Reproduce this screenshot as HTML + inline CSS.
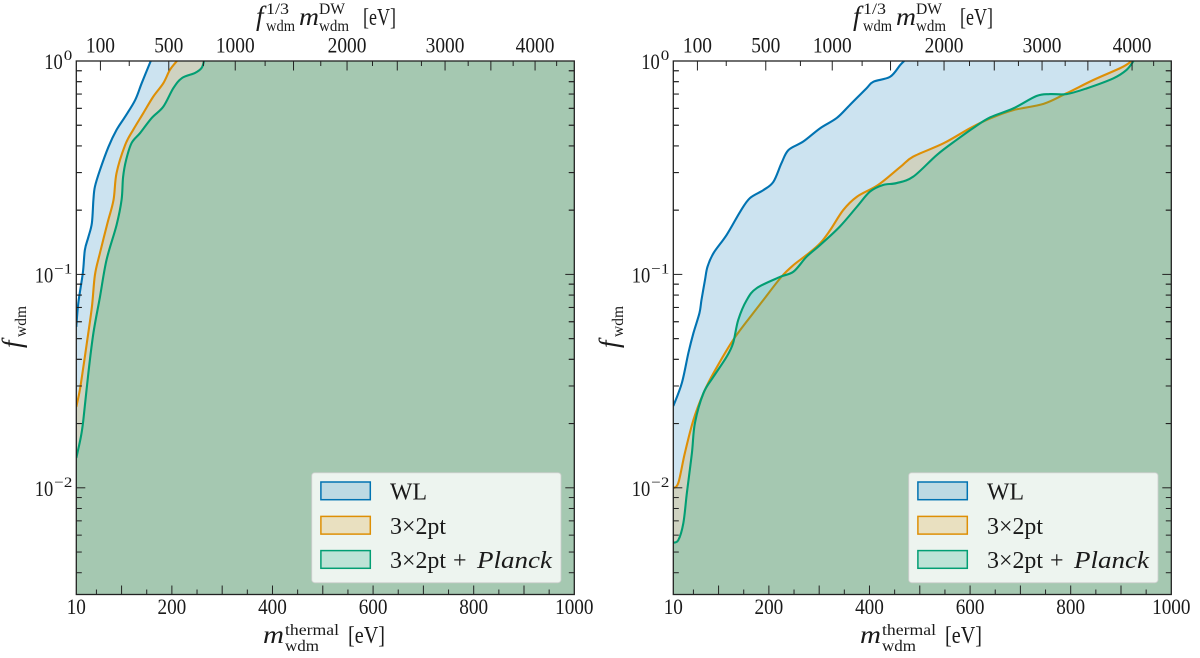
<!DOCTYPE html>
<html>
<head>
<meta charset="utf-8">
<title>WDM constraints</title>
<style>
html,body{margin:0;padding:0;background:#fff;}
svg{display:block;}
text{font-family:"Liberation Serif",serif;fill:#1a1a1a;}
.i{font-style:italic;}
</style>
</head>
<body>
<svg id="chart" width="1200" height="658" viewBox="0 0 1200 658" xmlns="http://www.w3.org/2000/svg">
  <defs>
    <clipPath id="clip-left"><rect x="76.3" y="61" width="498" height="533.5"/></clipPath>
    <clipPath id="clip-right"><rect x="673.3" y="61" width="498" height="533.5"/></clipPath>
  </defs>
  <g id="panel-left"></g>
  <g id="panel-right"></g>

  <g>
    <g>
      <text class="i" x="256" y="25" font-size="27">f</text>
      <text x="266" y="14" font-size="16" textLength="23" lengthAdjust="spacingAndGlyphs">1/3</text>
      <text x="266" y="31" font-size="16" textLength="29" lengthAdjust="spacingAndGlyphs">wdm</text>
      <text class="i" x="299" y="25" font-size="25" textLength="20" lengthAdjust="spacingAndGlyphs">m</text>
      <text x="319" y="14" font-size="16" textLength="26" lengthAdjust="spacingAndGlyphs">DW</text>
      <text x="319" y="31" font-size="16" textLength="30" lengthAdjust="spacingAndGlyphs">wdm</text>
      <text x="363" y="25" font-size="24" textLength="33" lengthAdjust="spacingAndGlyphs">[eV]</text>
    </g>
    <g>
      <text class="i" x="263" y="643" font-size="25" textLength="21" lengthAdjust="spacingAndGlyphs">m</text>
      <text x="285" y="635" font-size="16" textLength="54" lengthAdjust="spacingAndGlyphs">thermal</text>
      <text x="285" y="651" font-size="16" textLength="34" lengthAdjust="spacingAndGlyphs">wdm</text>
      <text x="348" y="643" font-size="24" textLength="37" lengthAdjust="spacingAndGlyphs">[eV]</text>
    </g>
    <g>
      <text class="i" transform="translate(21,348) rotate(-90)" font-size="27">f</text>
      <text transform="translate(26,337) rotate(-90)" font-size="16" textLength="31" lengthAdjust="spacingAndGlyphs">wdm</text>
    </g>
    <g>
      <rect x="311.7" y="472.7" width="249.3" height="110" rx="3" fill="#fff" fill-opacity="0.8" stroke="#ccc" stroke-opacity="0.8"/>
      <rect x="320.9" y="482" width="49.4" height="17.7" fill="#0173b2" fill-opacity="0.2" stroke="#0173b2" stroke-width="1.5"/>
      <rect x="320.9" y="516.4" width="49.4" height="17.7" fill="#de8f05" fill-opacity="0.2" stroke="#de8f05" stroke-width="1.5"/>
      <rect x="320.9" y="550.6" width="49.4" height="17.7" fill="#029e73" fill-opacity="0.2" stroke="#029e73" stroke-width="1.5"/>
      <text x="390" y="499.3" font-size="24" textLength="37" lengthAdjust="spacingAndGlyphs">WL</text>
      <text x="390" y="534" font-size="24" textLength="56" lengthAdjust="spacingAndGlyphs">3×2pt</text>
      <text x="390" y="568" font-size="24" textLength="56" lengthAdjust="spacingAndGlyphs">3×2pt</text>
      <text x="453" y="568" font-size="24">+</text>
      <text class="i" x="477" y="568" font-size="24" textLength="75" lengthAdjust="spacingAndGlyphs">Planck</text>
    </g>
  </g>

  <g transform="translate(597,0)">
    <g>
      <text class="i" x="256" y="25" font-size="27">f</text>
      <text x="266" y="14" font-size="16" textLength="23" lengthAdjust="spacingAndGlyphs">1/3</text>
      <text x="266" y="31" font-size="16" textLength="29" lengthAdjust="spacingAndGlyphs">wdm</text>
      <text class="i" x="299" y="25" font-size="25" textLength="20" lengthAdjust="spacingAndGlyphs">m</text>
      <text x="319" y="14" font-size="16" textLength="26" lengthAdjust="spacingAndGlyphs">DW</text>
      <text x="319" y="31" font-size="16" textLength="30" lengthAdjust="spacingAndGlyphs">wdm</text>
      <text x="363" y="25" font-size="24" textLength="33" lengthAdjust="spacingAndGlyphs">[eV]</text>
    </g>
    <g>
      <text class="i" x="263" y="643" font-size="25" textLength="21" lengthAdjust="spacingAndGlyphs">m</text>
      <text x="285" y="635" font-size="16" textLength="54" lengthAdjust="spacingAndGlyphs">thermal</text>
      <text x="285" y="651" font-size="16" textLength="34" lengthAdjust="spacingAndGlyphs">wdm</text>
      <text x="348" y="643" font-size="24" textLength="37" lengthAdjust="spacingAndGlyphs">[eV]</text>
    </g>
    <g>
      <text class="i" transform="translate(21,348) rotate(-90)" font-size="27">f</text>
      <text transform="translate(26,337) rotate(-90)" font-size="16" textLength="31" lengthAdjust="spacingAndGlyphs">wdm</text>
    </g>
    <g>
      <rect x="311.7" y="472.7" width="249.3" height="110" rx="3" fill="#fff" fill-opacity="0.8" stroke="#ccc" stroke-opacity="0.8"/>
      <rect x="320.9" y="482" width="49.4" height="17.7" fill="#0173b2" fill-opacity="0.2" stroke="#0173b2" stroke-width="1.5"/>
      <rect x="320.9" y="516.4" width="49.4" height="17.7" fill="#de8f05" fill-opacity="0.2" stroke="#de8f05" stroke-width="1.5"/>
      <rect x="320.9" y="550.6" width="49.4" height="17.7" fill="#029e73" fill-opacity="0.2" stroke="#029e73" stroke-width="1.5"/>
      <text x="390" y="499.3" font-size="24" textLength="37" lengthAdjust="spacingAndGlyphs">WL</text>
      <text x="390" y="534" font-size="24" textLength="56" lengthAdjust="spacingAndGlyphs">3×2pt</text>
      <text x="390" y="568" font-size="24" textLength="56" lengthAdjust="spacingAndGlyphs">3×2pt</text>
      <text x="453" y="568" font-size="24">+</text>
      <text class="i" x="477" y="568" font-size="24" textLength="75" lengthAdjust="spacingAndGlyphs">Planck</text>
    </g>
  </g>
</svg>
<script>
// Data: thermal mass in eV and log10(f_wdm)
const leftWlMass = [10,14,23,27,34,41,44,47,57,74,90,107,127,140,158];
const leftWlLogF = [-1.246,-1.134,-0.993,-0.886,-0.825,-0.759,-0.651,-0.589,-0.511,-0.402,-0.323,-0.261,-0.183,-0.104,0];
const leftXptMass = [10,17,24,31,41,47,57,72,84,90,107,123,143,163,183,196,210];
const leftXptLogF = [-1.621,-1.542,-1.434,-1.321,-1.153,-1.003,-0.900,-0.759,-0.651,-0.525,-0.394,-0.323,-0.245,-0.167,-0.104,-0.042,0];
const leftPlanckMass = [10,19,24,34,44,57,70,90,100,103,109,120,137,160,183,203,220,246,259,264];
const leftPlanckLogF = [-1.860,-1.762,-1.682,-1.462,-1.275,-1.106,-0.933,-0.769,-0.651,-0.544,-0.464,-0.384,-0.337,-0.267,-0.214,-0.127,-0.080,-0.056,-0.033,0];

const rightWlMass = [10,27,40,50,62,66,73,78,90,116,143,162,189,209,225,239,268,302,335,361,394,408,441,461,469];
const rightWlLogF = [-1.617,-1.509,-1.368,-1.275,-1.181,-1.120,-1.026,-0.964,-0.900,-0.815,-0.706,-0.643,-0.605,-0.566,-0.479,-0.417,-0.378,-0.315,-0.267,-0.206,-0.128,-0.097,-0.074,-0.019,0];
const rightXptMass = [10,20,33,50,70,90,129,169,189,225,249,275,302,322,348,375,417,461,487,547,600,640,686,746,792,845,898,915,919];
const rightXptLogF = [-2.001,-1.977,-1.837,-1.682,-1.556,-1.462,-1.307,-1.181,-1.120,-1.011,-0.956,-0.909,-0.854,-0.792,-0.698,-0.636,-0.581,-0.497,-0.448,-0.386,-0.315,-0.269,-0.230,-0.201,-0.151,-0.089,-0.034,-0.011,0];
const rightPlanckMass = [10,20,30,37,47,53,70,90,116,129,139,156,176,222,249,275,302,341,375,401,427,454,487,534,573,610,640,686,732,759,792,832,885,911,925];
const rightPlanckLogF = [-2.257,-2.245,-2.165,-2.024,-1.837,-1.696,-1.556,-1.479,-1.386,-1.321,-1.214,-1.120,-1.064,-1.012,-0.987,-0.917,-0.862,-0.776,-0.683,-0.612,-0.581,-0.572,-0.542,-0.440,-0.370,-0.308,-0.264,-0.222,-0.164,-0.155,-0.155,-0.128,-0.081,-0.042,0];

// Axis ticks
const xLabelTicks = [10,200,400,600,800,1000];
const xMajorTicks = [100,200,300,400,500,600,700,800,900];
const xMinorTicks = [50,150,250,350,450,550,650,750,850,950];
const topLabelTicks = [100,500,1000,2000,3000,4000];
const topMajorTicks = [100,500,1000,1500,2000,2500,3000,3500,4000];
const topMinorTicks = [250,750,1250,1750,2250,2750,3250,3750,4250];
const yDecades = [0,-1,-2];
const yMinorMultipliers = [2,3,4,5,6,7,8,9];

const NS = 'http://www.w3.org/2000/svg';
const axTop = 61, axBottom = 594.5, axWidth = 498;
const massMin = 10, massMax = 1000, logMin = -2.5, logMax = 0;
const colors = {wl:'#0173b2', xpt:'#de8f05', planck:'#029e73'};

function yScale(logF){ return axTop + (logMax - logF) / (logMax - logMin) * (axBottom - axTop); }
function topToThermal(m){ return 922 * Math.pow(m / 4000, 0.75); }

function make(parent, tag, attrs, text){
  const el = document.createElementNS(NS, tag);
  for (const k in attrs) el.setAttribute(k, attrs[k]);
  if (text !== undefined) el.textContent = text;
  parent.appendChild(el);
  return el;
}

function smoothPath(pts){
  let d = '';
  for (let i = 0; i < pts.length - 1; i++){
    const p0 = pts[Math.max(0, i - 1)], p1 = pts[i], p2 = pts[i + 1], p3 = pts[Math.min(pts.length - 1, i + 2)];
    const c1x = p1[0] + (p2[0] - p0[0]) / 6, c1y = p1[1] + (p2[1] - p0[1]) / 6;
    const c2x = p2[0] - (p3[0] - p1[0]) / 6, c2y = p2[1] - (p3[1] - p1[1]) / 6;
    d += ' C' + c1x.toFixed(2) + ' ' + c1y.toFixed(2) + ' ' + c2x.toFixed(2) + ' ' + c2y.toFixed(2) + ' ' + p2[0].toFixed(2) + ' ' + p2[1].toFixed(2);
  }
  return d;
}

function drawSeries(g, xScale, masses, logs, color, key, clip){
  const pts = masses.map(function(m, i){ return [xScale(m), yScale(logs[i])]; });
  const curve = smoothPath(pts);
  const first = 'M' + pts[0][0].toFixed(2) + ' ' + pts[0][1].toFixed(2);
  const last = pts[pts.length - 1];
  const area = 'M' + xScale(massMin) + ' ' + axBottom + ' L' + pts[0][0].toFixed(2) + ' ' + pts[0][1].toFixed(2) + curve +
    ' L' + xScale(massMax) + ' ' + last[1].toFixed(2) + ' L' + xScale(massMax) + ' ' + axBottom + ' Z';
  const fill = make(g, 'path', {d: area, fill: color, 'fill-opacity': 0.2, 'clip-path': 'url(#' + clip + ')'});
  
  
  const line = make(g, 'path', {d: first + curve, fill: 'none', stroke: color, 'stroke-width': 2.1, 'stroke-linejoin': 'round', 'clip-path': 'url(#' + clip + ')'});
  
  
}

function tickLine(g, x1, y1, x2, y2, name){
  const t = make(g, 'line', {x1: x1, y1: y1, x2: x2, y2: y2, stroke: '#222', 'stroke-width': 1});
  
  
}

function tickText(g, x, y, str, size, width, anchor, name){
  const t = make(g, 'text', {x: x, y: y, 'font-size': size, 'text-anchor': anchor, textLength: width, lengthAdjust: 'spacingAndGlyphs'}, str);
  
  
}

function drawPanel(id, x0, series, clip){
  const g = document.getElementById(id);
  const xScale = function(m){ return x0 + (m - massMin) / (massMax - massMin) * axWidth; };
  const x1 = x0 + axWidth;

  drawSeries(g, xScale, series[0][0], series[0][1], colors.wl, 'wl', clip);
  drawSeries(g, xScale, series[1][0], series[1][1], colors.xpt, 'three-by-two-pt', clip);
  drawSeries(g, xScale, series[2][0], series[2][1], colors.planck, 'three-by-two-pt-planck', clip);

  xMajorTicks.forEach(function(m){ tickLine(g, xScale(m), axBottom, xScale(m), axBottom - 9, 'x-major-tick'); });
  xMinorTicks.forEach(function(m){ tickLine(g, xScale(m), axBottom, xScale(m), axBottom - 5, 'x-minor-tick'); });
  topMajorTicks.forEach(function(m){ const x = xScale(topToThermal(m)); tickLine(g, x, axTop, x, axTop + 9.5, 'top-major-tick'); });
  topMinorTicks.forEach(function(m){ const x = xScale(topToThermal(m)); tickLine(g, x, axTop, x, axTop + 5, 'top-minor-tick'); });

  yDecades.forEach(function(k){
    const y = yScale(k);
    tickLine(g, x0, y, x0 + 9, y, 'y-major-tick');
    tickLine(g, x1, y, x1 - 9, y, 'y-major-tick');
    yMinorMultipliers.forEach(function(n){
      [k, k - 1].forEach(function(dec){
        const v = dec + Math.log10(n);
        if (v < logMin || v > logMax) return;
        const yy = yScale(v);
        tickLine(g, x0, yy, x0 + 5.5, yy, 'y-minor-tick');
        tickLine(g, x1, yy, x1 - 5.5, yy, 'y-minor-tick');
      });
    });
  });

  const frame = make(g, 'rect', {x: x0, y: axTop, width: axWidth, height: axBottom - axTop, fill: 'none', stroke: '#222', 'stroke-width': 1.3});
  
  

  xLabelTicks.forEach(function(m){
    const s = String(m);
    tickText(g, xScale(m), 614, s, 22, s.length * 9.6, 'middle', 'x-tick-label');
  });
  topLabelTicks.forEach(function(m){
    const s = String(m);
    tickText(g, xScale(topToThermal(m)), 52.7, s, 22, s.length * 9.7, 'middle', 'top-tick-label');
  });
  yDecades.forEach(function(k){
    const y = yScale(k);
    const exp = k === 0 ? '0' : '\u2212' + Math.abs(k);
    const expW = k === 0 ? 8.5 : 18;
    const baseX = x0 - 4 - expW - 1 - 18.5;
    tickText(g, baseX, y + 8, '10', 22, 18.5, 'start', 'y-tick-label');
    tickText(g, x0 - 4 - expW, y - 1, exp, 15, expW, 'start', 'y-tick-exponent');
  });
}

drawPanel('panel-left', 76.3, [[leftWlMass, leftWlLogF], [leftXptMass, leftXptLogF], [leftPlanckMass, leftPlanckLogF]], 'clip-left');
drawPanel('panel-right', 673.3, [[rightWlMass, rightWlLogF], [rightXptMass, rightXptLogF], [rightPlanckMass, rightPlanckLogF]], 'clip-right');
</script>
</body>
</html>
